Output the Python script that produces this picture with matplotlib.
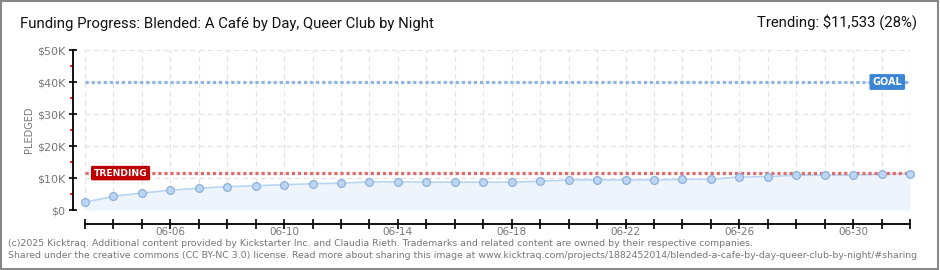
import matplotlib
matplotlib.use('Agg')
import matplotlib.pyplot as plt
from matplotlib.patches import Rectangle

# daily pledged totals, 06-03 .. 07-02
dates = ['06-03', '06-04', '06-05', '06-06', '06-07', '06-08', '06-09', '06-10',
         '06-11', '06-12', '06-13', '06-14', '06-15', '06-16', '06-17', '06-18',
         '06-19', '06-20', '06-21', '06-22', '06-23', '06-24', '06-25', '06-26',
         '06-27', '06-28', '06-29', '06-30', '07-01', '07-02']
pledged = [2400, 4300, 5300, 6200, 6800, 7300, 7600, 7900, 8200, 8400,
           8800, 8800, 8700, 8700, 8700, 8700, 9000, 9400, 9400, 9400,
           9400, 9600, 9600, 10300, 10400, 10900, 10900, 10900, 11200, 11300]
goal = 40000
trending = 11533
trending_pct = 28
yticks = [0, 10000, 20000, 30000, 40000, 50000]
ytick_labels = ['$0', '$10K', '$20K', '$30K', '$40K', '$50K']
xtick_labels = ['06-06', '06-10', '06-14', '06-18', '06-22', '06-26', '06-30']

title = 'Funding Progress: Blended: A Café by Day, Queer Club by Night'
footer1 = ('(c)2025 Kicktraq. Additional content provided by Kickstarter Inc. and Claudia Rieth. '
           'Trademarks and related content are owned by their respective companies.')
footer2 = ('Shared under the creative commons (CC BY-NC 3.0) license. Read more about sharing this image at '
           'www.kicktraq.com/projects/1882452014/blended-a-cafe-by-day-queer-club-by-night/#sharing')

narrow = ['Roboto', 'DejaVu Sans']

W, H = 940, 270
fig = plt.figure(figsize=(W / 100, H / 100), dpi=100)
fig.patch.set_facecolor('white')
fig.patches.append(Rectangle((0.001, 0.002), 0.997, 0.994, transform=fig.transFigure,
                             fill=False, edgecolor='#888888', linewidth=1.5))

ax = fig.add_axes([85 / W, (H - 210) / H, 825 / W, 160 / H])
x = list(range(len(dates)))

ax.fill_between(x, pledged, 0, color='#edf4fc', linewidth=0, zorder=1)
ax.plot(x, pledged, color='#b9d5f2', linewidth=1.2, zorder=2)
ax.plot(x, pledged, 'o', markersize=5.6, markerfacecolor='#bcd7f5',
        markeredgecolor='#8fb0d8', markeredgewidth=0.9, clip_on=False, zorder=5)

ax.plot([0, len(x) - 1], [goal, goal], color='#92b4e0', linewidth=2.3,
        linestyle=(0, (1, 0.9)), zorder=3, clip_on=False)
ax.plot([0, len(x) - 1], [trending, trending], color='#e26a6a', linewidth=2.3,
        linestyle=(0, (1, 0.9)), zorder=3, clip_on=False)

ax.text(28.2, goal, 'GOAL', color='white', fontsize=7, fontweight='bold',
        ha='center', va='center', zorder=6,
        bbox=dict(boxstyle='round,pad=0.3,rounding_size=0.15', fc='#3a86d4', ec='none'))
ax.text(1.25, trending, 'TRENDING', color='white', fontsize=6.6, fontweight='bold',
        ha='center', va='center', zorder=6,
        bbox=dict(boxstyle='round,pad=0.3,rounding_size=0.15', fc='#c00000', ec='none'))

ax.set_xlim(0, len(x) - 1)
ax.set_ylim(0, 50000)

ax.set_xticks(x, minor=True)
ax.set_xticks([dates.index(d) for d in xtick_labels])
ax.set_xticklabels(xtick_labels)
ax.set_yticks(yticks)
ax.set_yticklabels(ytick_labels)
ax.set_yticks([5000, 15000, 25000, 35000, 45000], minor=True)

ax.grid(True, which='both', axis='x', color='#e2e2e2', linestyle=(0, (4, 3)), linewidth=0.9)
ax.grid(True, which='major', axis='y', color='#e2e2e2', linestyle=(0, (4, 3)), linewidth=0.9)
ax.set_axisbelow(True)

for s in ['top', 'right']:
    ax.spines[s].set_visible(False)
ax.spines['left'].set_position(('outward', 9))
ax.spines['bottom'].set_position(('outward', 10))
ax.spines['left'].set_linewidth(1.3)
ax.spines['bottom'].set_linewidth(1.3)

ax.tick_params(axis='x', which='both', direction='inout', length=7, width=1.2,
               colors='black', labelcolor='#777777', labelsize=7.5, pad=-1)
ax.tick_params(axis='y', which='major', direction='inout', length=6, width=1.2,
               colors='black', labelcolor='#777777', labelsize=8, pad=2)
ax.tick_params(axis='y', which='minor', direction='out', length=2.4, width=1.2, colors='red')

ax.set_ylabel('PLEDGED', color='#777777', fontsize=7, labelpad=2)

fig.text(20 / W, 1 - 24 / H, title, fontsize=10.7, color='#111111',
         ha='left', va='center', family=narrow)
fig.text(917 / W, 1 - 22 / H, 'Trending: $11,533 (%d%%)' % trending_pct, fontsize=10.7,
         color='#111111', ha='right', va='center', family=narrow)

fig.text(8 / W, 1 - 243 / H, footer1, fontsize=6.75, color='#777777', ha='left', va='center')
fig.text(8 / W, 1 - 256 / H, footer2, fontsize=6.75, color='#777777', ha='left', va='center')

fig.savefig('out.png', dpi=100)
